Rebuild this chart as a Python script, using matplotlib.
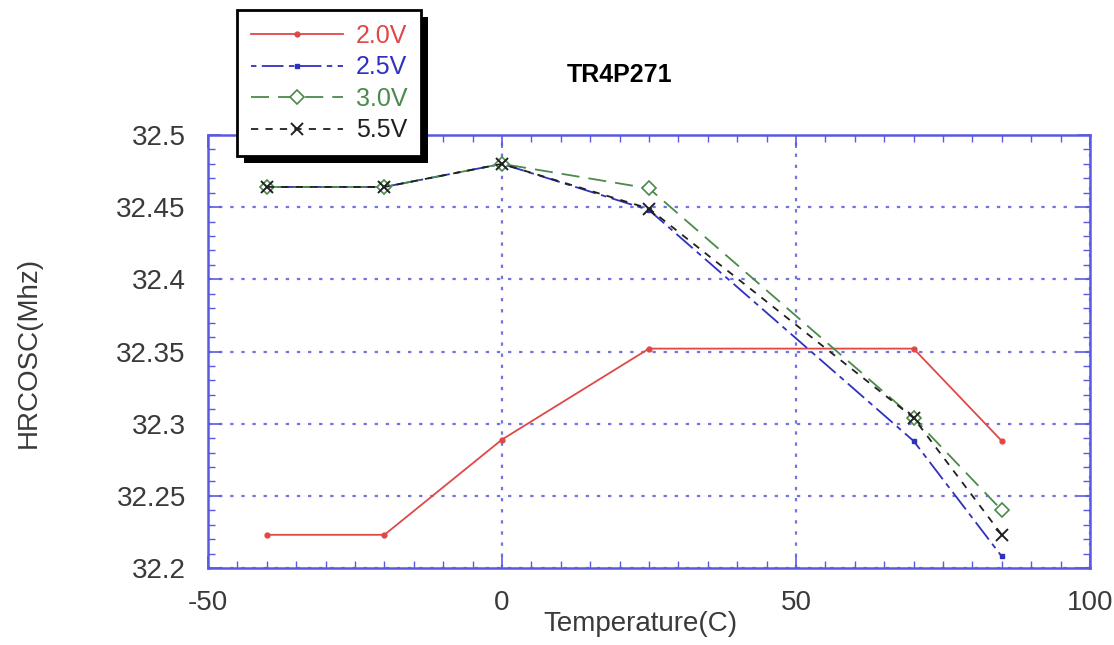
"""Recreate the TR4P271 HRCOSC vs temperature chart."""

import matplotlib

matplotlib.use("Agg")
import matplotlib.pyplot as plt
from matplotlib.patches import Rectangle
from matplotlib.ticker import MultipleLocator

plt.rcParams["font.family"] = ["Liberation Sans", "DejaVu Sans"]
plt.rcParams["axes.unicode_minus"] = False

# data
temps = [-40, -20, 0, 25, 70, 85]
v20 = [32.223, 32.223, 32.289, 32.352, 32.352, 32.288]
v25 = [32.464, 32.464, 32.480, 32.448, 32.288, 32.208]
v30 = [32.464, 32.464, 32.480, 32.463, 32.304, 32.240]
v55 = [32.464, 32.464, 32.480, 32.449, 32.304, 32.223]
labels = ["2.0V", "2.5V", "3.0V", "5.5V"]
yticks = [32.2, 32.25, 32.3, 32.35, 32.4, 32.45, 32.5]
ytick_labels = ["32.2", "32.25", "32.3", "32.35", "32.4", "32.45", "32.5"]
xticks = [-50, 0, 50, 100]

RED = "#e04848"
BLUE = "#3030c0"
GREEN = "#4a8a4a"
BLACK = "#202020"
FRAME = "#5a5ae0"

fig = plt.figure(figsize=(11.14, 6.45), dpi=100)
ax = fig.add_axes([208 / 1114, 1 - 568 / 645, 882 / 1114, 433 / 645])

ax.plot(temps, v20, color=RED, lw=1.3, marker="o", ms=3.5, label=labels[0])
ax.plot(temps, v25, color=BLUE, lw=1.3, marker="s", ms=3.5,
        dashes=(3, 3, 12, 3), label=labels[1])
ax.plot(temps, v30, color=GREEN, lw=1.3, marker="D", ms=7, mfc="white",
        mew=1.2, dashes=(10, 5), label=labels[2])
ax.plot(temps, v55, color=BLACK, lw=1.3, marker="x", ms=9, mew=1.4,
        dashes=(4, 4), label=labels[3])

ax.set_xlim(-50, 100)
ax.set_ylim(32.2, 32.5)
ax.set_xticks(xticks)
ax.set_yticks(yticks)
ax.set_yticklabels(ytick_labels)
ax.xaxis.set_minor_locator(MultipleLocator(5))
ax.yaxis.set_minor_locator(MultipleLocator(0.01))
ax.tick_params(which="both", direction="in", top=True, right=True,
               color=FRAME, labelcolor="#3a3a3a", labelsize=20)
ax.tick_params(which="major", length=9, width=1.2)
ax.tick_params(which="minor", length=5, width=1)
ax.tick_params(axis="y", pad=16)
ax.tick_params(axis="x", pad=16)
for s in ax.spines.values():
    s.set_color(FRAME)
    s.set_linewidth(1.8)
ax.grid(True, which="major", color=FRAME, linestyle=(0, (1.5, 3.5)),
        linewidth=1.6, alpha=0.85)

ax.set_xlabel("Temperature(C)", fontsize=20, color="#3a3a3a")
ax.xaxis.set_label_coords(0.49, -0.10)
fig.text(0.026, 1 - 352 / 645, "HRCOSC(Mhz)", rotation=90, ha="center",
         va="center", fontsize=20, color="#3a3a3a")
fig.text(620 / 1114, 1 - 75 / 645, "TR4P271", ha="center", va="center",
         fontsize=18, fontweight="bold", color="black")

h, l = ax.get_legend_handles_labels()
leg = fig.legend(h, l, loc="upper left", bbox_to_anchor=(237 / 1114, 1 - 10 / 645),
                 borderaxespad=0, fontsize=18, labelcolor="linecolor",
                 handlelength=3.7, handletextpad=0.5, borderpad=0.55,
                 labelspacing=0.3, numpoints=1, fancybox=False, framealpha=1,
                 edgecolor="black")
leg.get_frame().set_linewidth(2)
leg.set_zorder(6)

# solid black drop shadow behind the legend box
fig.canvas.draw()
bb = leg.get_window_extent()
fig.add_artist(Rectangle((bb.x0 + 7, bb.y0 - 7), bb.width, bb.height,
                         transform=None, facecolor="black", edgecolor="none",
                         zorder=5))

fig.savefig("out.png", dpi=100)
